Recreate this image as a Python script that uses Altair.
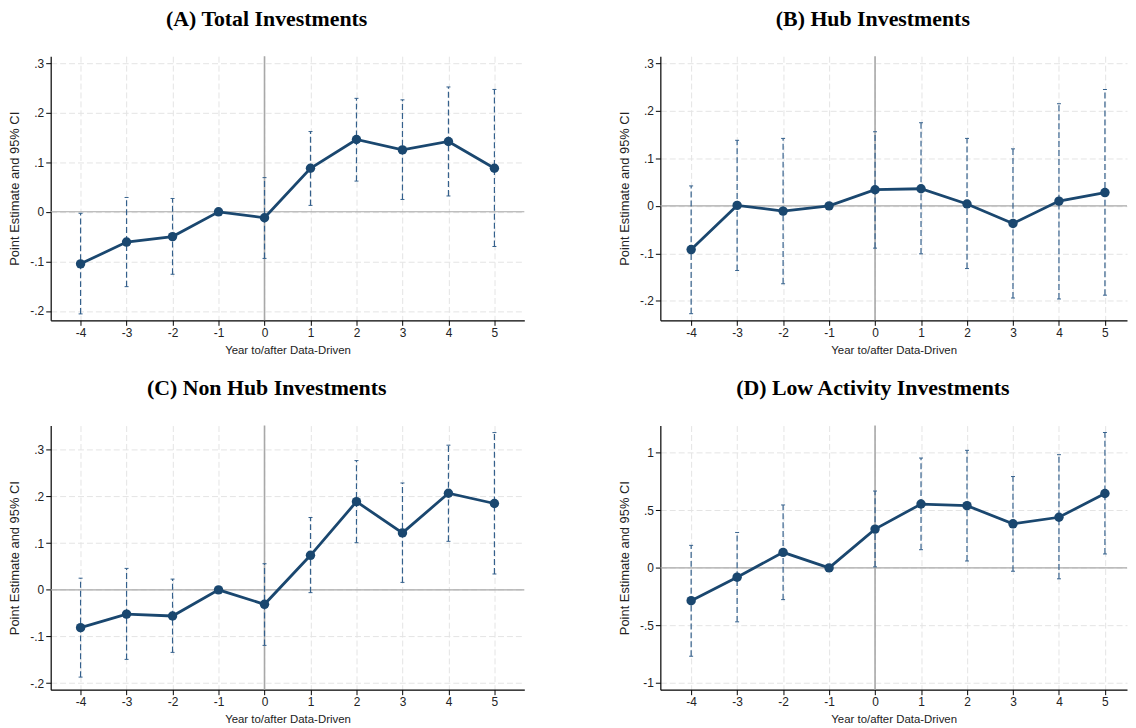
import altair as alt
import pandas as pd

periods = [-4, -3, -2, -1, 0, 1, 2, 3, 4, 5]

a_est = [-0.105, -0.061, -0.050, 0.0, -0.012, 0.088, 0.146, 0.125, 0.142, 0.088]
a_lo = [-0.206, -0.151, -0.126, None, -0.094, 0.013, 0.062, 0.025, 0.032, -0.070]
a_hi = [-0.003, 0.029, 0.027, None, 0.069, 0.162, 0.229, 0.226, 0.252, 0.247]

b_est = [-0.092, 0.001, -0.011, 0.0, 0.034, 0.036, 0.004, -0.037, 0.010, 0.028]
b_lo = [-0.227, -0.136, -0.164, None, -0.089, -0.101, -0.132, -0.194, -0.196, -0.188]
b_hi = [0.042, 0.138, 0.142, None, 0.156, 0.175, 0.142, 0.120, 0.215, 0.245]

c_est = [-0.081, -0.052, -0.056, 0.0, -0.031, 0.074, 0.189, 0.122, 0.207, 0.185]
c_lo = [-0.187, -0.149, -0.134, None, -0.119, -0.006, 0.101, 0.016, 0.104, 0.034]
c_hi = [0.025, 0.046, 0.023, None, 0.056, 0.155, 0.277, 0.229, 0.310, 0.337]

d_est = [-0.285, -0.081, 0.135, 0.0, 0.337, 0.555, 0.541, 0.383, 0.440, 0.647]
d_lo = [-0.768, -0.469, -0.276, None, 0.009, 0.158, 0.060, -0.029, -0.095, 0.121]
d_hi = [0.196, 0.308, 0.547, None, 0.668, 0.955, 1.022, 0.794, 0.984, 1.177]

yticks_small = [-0.2, -0.1, 0, 0.1, 0.2, 0.3]
yticks_big = [-1, -0.5, 0, 0.5, 1]

NAVY = "#1a476f"
CI = "#34608c"
REF = "#a8a8a8"

Y_LABEL_EXPR = "replace(replace(format(datum.value, '~g'), '\u2212', '-'), '0.', '.')"
X_LABEL_EXPR = "replace(format(datum.value, 'd'), '\u2212', '-')"


def panel(title, est, lo, hi, xdom, ydom, yticks, width):
    df = pd.DataFrame({"t": periods, "est": est, "lo": lo, "hi": hi})
    xaxis = alt.Axis(values=periods, title="Year to/after Data-Driven",
                     grid=True, labelExpr=X_LABEL_EXPR, titlePadding=6,
                     labelPadding=2, titleFontSize=11.5)
    yaxis = alt.Axis(values=yticks, title="Point Estimate and 95% CI",
                     grid=True, labelExpr=Y_LABEL_EXPR, titlePadding=8.5,
                     labelPadding=2, titleFontSize=13)
    xs = alt.Scale(domain=xdom, nice=False, zero=False)
    ys = alt.Scale(domain=ydom, nice=False, zero=False)

    def X():
        return alt.X("t:Q", scale=xs, axis=xaxis)

    def Y(f):
        return alt.Y(f + ":Q", scale=ys, axis=yaxis)

    base = alt.Chart(df)
    vline = alt.Chart(pd.DataFrame({"t": [0]})).mark_rule(
        color=REF, strokeWidth=1.6).encode(x=X())
    hline = alt.Chart(pd.DataFrame({"v": [0]})).mark_rule(
        color=REF, strokeWidth=1.1).encode(y=alt.Y("v:Q", scale=ys, axis=yaxis))
    cis = base.transform_filter("isValid(datum.lo)")
    ci = cis.mark_rule(color=CI, strokeWidth=1.2, strokeDash=[6, 3]).encode(
        x=X(), y=Y("lo"), y2="hi:Q")
    cap_lo = cis.mark_tick(orient="horizontal", size=4, thickness=1,
                           color=CI, opacity=1).encode(x=X(), y=Y("lo"))
    cap_hi = cis.mark_tick(orient="horizontal", size=4, thickness=1,
                           color=CI, opacity=1).encode(x=X(), y=Y("hi"))
    line = base.mark_line(color=NAVY, strokeWidth=2.8).encode(x=X(), y=Y("est"))
    pts = base.mark_circle(color=NAVY, size=90, opacity=1).encode(x=X(), y=Y("est"))
    return alt.layer(vline, hline, ci, cap_lo, cap_hi, line, pts).properties(
        width=width, height=266,
        title=alt.TitleParams(title, font="Liberation Serif", fontSize=22,
                              fontWeight="bold", anchor="middle", offset=25,
                              frame="bounds", color="#000"),
    )


pa = panel("(A) Total Investments", a_est, a_lo, a_hi, [-4.65, 5.65],
           [-0.219, 0.314], yticks_small, 477)
pb = panel("(B) Hub Investments", b_est, b_lo, b_hi, [-4.67, 5.48],
           [-0.241, 0.315], yticks_small, 470)
pc = panel("(C) Non Hub Investments", c_est, c_lo, c_hi, [-4.65, 5.65],
           [-0.214, 0.352], yticks_small, 477)
pd_ = panel("(D) Low Activity Investments", d_est, d_lo, d_hi, [-4.67, 5.48],
            [-1.059, 1.237], yticks_big, 470)

row1 = alt.hconcat(pa, pb, spacing=93)
row2 = alt.hconcat(pc, pd_, spacing=93)

chart = alt.vconcat(row1, row2, spacing=21).properties(
    padding={"top": -3, "left": 0, "right": 0, "bottom": 0}, background="white"
).configure_view(stroke=None).configure_axis(
    domainColor="#000", domainWidth=1.2, tickColor="#000", tickSize=5,
    tickWidth=1, labelFont="Liberation Sans", labelFontSize=12,
    labelColor="#222", titleFont="Liberation Sans",
    titleFontWeight="normal", titleColor="#222", gridColor="#e4e4e4",
    gridDash=[6, 3], gridWidth=1,
).configure_axisY(labelAngle=0)

chart.save("out.html", embed_options={"renderer": "svg", "actions": False})
